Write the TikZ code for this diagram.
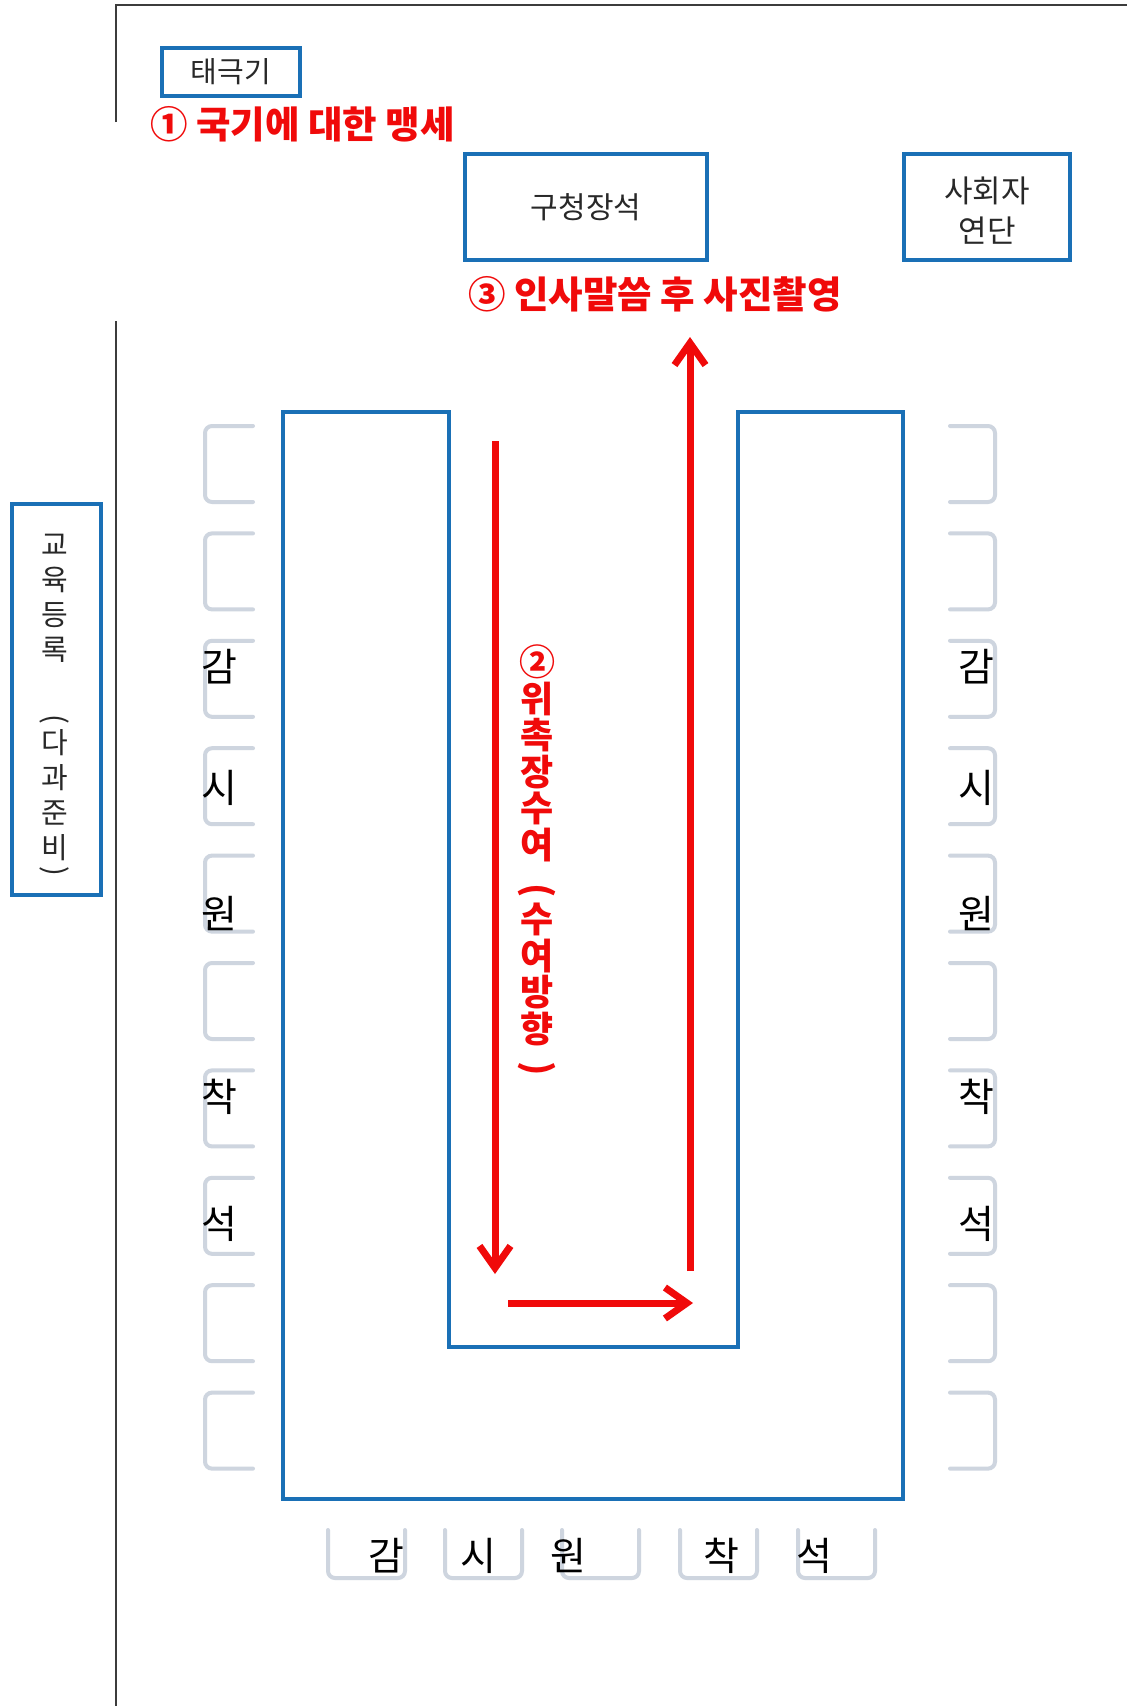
\documentclass[tikz,border=0pt]{standalone}
\usepackage{fontspec}
\setmainfont{Noto Sans CJK KR}
\newfontfamily\kr{Noto Sans CJK KR}
\usetikzlibrary{arrows.meta}
\definecolor{tblue}{RGB}{26,112,182}
\definecolor{chairgray}{RGB}{206,213,223}
\definecolor{framegray}{RGB}{60,60,60}
\definecolor{tred}{RGB}{240,10,10}
\definecolor{txtgray}{RGB}{40,40,40}
\newcommand\vlparen[1]{\raisebox{#1}{\rotatebox[origin=c]{-90}{(}}}
\newcommand\vrparen[1]{\raisebox{#1}{\rotatebox[origin=c]{-90}{)}}}
\begin{document}
\begin{tikzpicture}[x=1pt,y=-1pt,
  box/.style={draw=tblue, line width=4.5pt, inner sep=0pt},
  chair/.style={draw=chairgray, line width=4pt, rounded corners=7pt, line cap=round},
  redarrow/.style={draw=tred, line width=7pt, -{Straight Barb[length=22pt,width=31pt]}},
  lbl/.style={font=\kr\fontsize{30}{40}\selectfont, text=txtgray, align=center},
  seat/.style={font=\kr\fontsize{39}{39}\selectfont, text=black, inner sep=0pt},
  redtxt/.style={font=\kr\bfseries\fontsize{37.5}{37.5}\selectfont, text=tred, inner sep=0pt},
]
\useasboundingbox (0,0) rectangle (1127,1706);
\fill[white] (0,0) rectangle (1127,1706);

% frame
\draw[framegray, line width=2pt] (116,1706) -- (116,321);
\draw[framegray, line width=2pt] (116,122) -- (116,5) -- (1127,5);

% top boxes
\node[box, lbl, font=\kr\fontsize{29}{40}\selectfont, minimum width=138pt, minimum height=48pt] (flag) at (231,72) {태극기};
\node[box, lbl, minimum width=242pt, minimum height=106pt] (chief) at (586,207) {구청장석};
\node[box, minimum width=166pt, minimum height=106pt] (mc) at (987,207) {};
\node[lbl, font=\kr\fontsize{31}{40}\selectfont, inner sep=0pt] (mct) at (987,211) {사회자\\연단};

\node[redtxt, anchor=west] (t1) at (150,124) {① 국기에 대한 맹세};
\node[redtxt, anchor=west] (t3) at (468,294) {③ 인사말씀 후 사진촬영};

% registration desk
\node[box, minimum width=89pt, minimum height=391pt] (reg) at (56.5,699.5) {};
\node[font=\kr\fontsize{29}{35}\selectfont, text=txtgray, align=center, inner sep=0pt, anchor=north] (regt) at (55,534)
  {교\\육\\등\\록\\[20pt]\vlparen{-13pt}\\다\\과\\준\\비\\\vrparen{13pt}};

% U table
\draw[box] (283,412) -- (449,412) -- (449,1347) -- (738,1347) -- (738,412) -- (903,412)
  -- (903,1499) -- (283,1499) -- cycle;

% chairs left and right
\foreach \k in {0,...,9}{
  \pgfmathsetmacro{\t}{426+107.4*\k}
  \pgfmathsetmacro{\b}{\t+76}
  \draw[chair] (253,\t) -- (205,\t) -- (205,\b) -- (253,\b);
  \draw[chair] (950,\t) -- (995,\t) -- (995,\b) -- (950,\b);
}
% chairs bottom
\foreach \x in {328,445,562,680,798}{
  \draw[chair] (\x,1530) -- (\x,1578) -- (\x+77,1578) -- (\x+77,1530);
}

% seat labels left
\node[seat] (l1) at (219,667) {감};
\node[seat] (l2) at (219,788) {시};
\node[seat] (l3) at (219,914) {원};
\node[seat] (l4) at (219,1097) {착};
\node[seat] (l5) at (219,1224) {석};
% right
\node[seat] (r1) at (976,667) {감};
\node[seat] (r2) at (976,788) {시};
\node[seat] (r3) at (976,914) {원};
\node[seat] (r4) at (976,1097) {착};
\node[seat] (r5) at (976,1224) {석};
% bottom
\node[seat] (b1) at (386,1556) {감};
\node[seat] (b2) at (478,1556) {시};
\node[seat] (b3) at (568,1556) {원};
\node[seat] (b4) at (721,1556) {착};
\node[seat] (b5) at (814,1556) {석};

% red vertical text
\node[font=\kr\bfseries\fontsize{36}{36.5}\selectfont, text=tred, align=center, inner sep=0pt, anchor=north] (t2) at (537,645)
  {②\\위\\촉\\장\\수\\여\\\vlparen{-7pt}\\수\\여\\방\\향\\\vrparen{-2pt}};

% red arrows
\coordinate (a1) at (495,441);
\coordinate (a2) at (495,1274);
\coordinate (a3) at (508,1303);
\coordinate (a4) at (693,1303);
\coordinate (a5) at (690,1271);
\coordinate (a6) at (690,337);
\draw[redarrow] (a1) -- (a2);
\draw[redarrow] (a3) -- (a4);
\draw[redarrow] (a5) -- (a6);
\end{tikzpicture}
\end{document}
